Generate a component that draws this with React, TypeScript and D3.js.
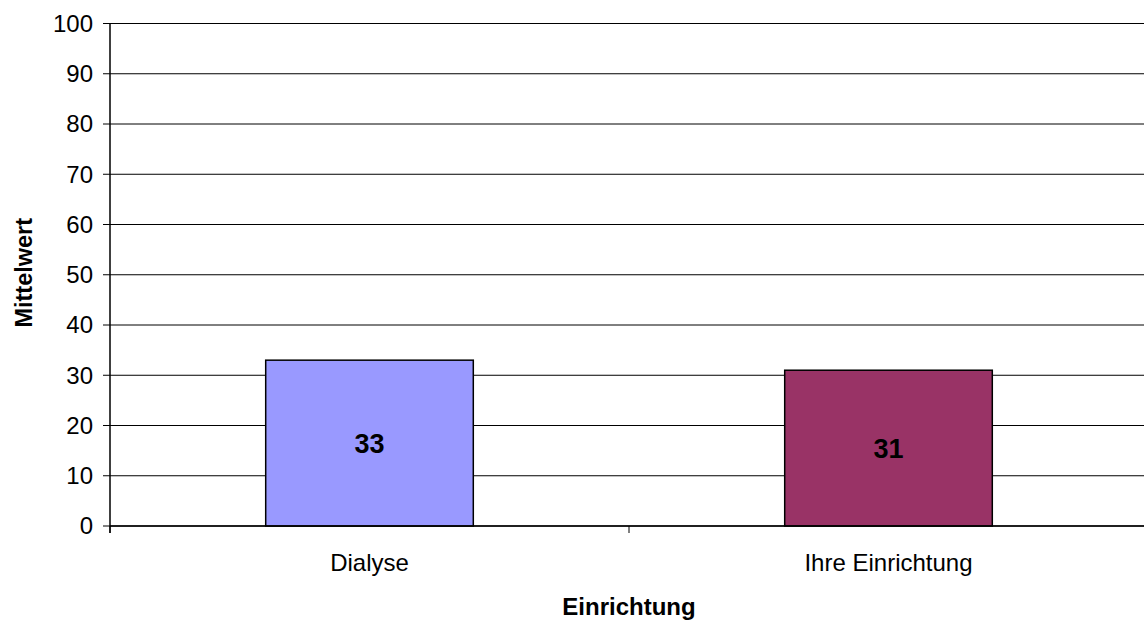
import React from "react";
import * as d3 from "d3";

const categories = ["Dialyse", "Ihre Einrichtung"];
const values = [33, 31];
const colors = ["#9999FF", "#993366"];
const yTicks = [0, 10, 20, 30, 40, 50, 60, 70, 80, 90, 100];

const W = 1144;
const H = 623;
const left = 110;
const right = 1148;
const top = 23.5;
const bottom = 526;

export default function App() {
  const x = d3.scaleBand<string>().domain(categories).range([left, right]).padding(0);
  const y = d3.scaleLinear().domain([0, 100]).range([bottom, top]);
  const bw = x.bandwidth() * 0.4;
  const font = "Arial, 'Liberation Sans', sans-serif";
  const edges = [left, ...categories.map((c) => (x(c) as number) + x.bandwidth())];
  return (
    <svg width={W} height={H} style={{ position: "absolute", left: 0, top: 0 }} fontFamily={font}>
      <rect width={W} height={H} fill="#fff" />
      {yTicks.map((t) => (
        <g key={t}>
          <line x1={left - 7} x2={right} y1={y(t)} y2={y(t)} stroke="#000" strokeWidth={1} />
          <text x={left - 17} y={y(t)} dy="0.35em" textAnchor="end" fontSize={24}>
            {t}
          </text>
        </g>
      ))}
      {categories.map((c, i) => {
        const cx = (x(c) as number) + x.bandwidth() / 2;
        return (
          <g key={c}>
            <rect
              x={cx - bw / 2}
              y={y(values[i])}
              width={bw}
              height={bottom - y(values[i])}
              fill={colors[i]}
              stroke="#000"
              strokeWidth={1.5}
            />
            <text
              x={cx}
              y={(y(values[i]) + bottom) / 2}
              dy="0.35em"
              textAnchor="middle"
              fontSize={27}
              fontWeight="bold"
            >
              {values[i]}
            </text>
            <text x={cx} y={571} textAnchor="middle" fontSize={24}>
              {c}
            </text>
          </g>
        );
      })}
      <line x1={left} x2={left} y1={top} y2={bottom + 7} stroke="#000" strokeWidth={1.5} />
      <line x1={left} x2={right} y1={bottom} y2={bottom} stroke="#000" strokeWidth={1.5} />
      {edges.map((e, i) => (
        <line key={i} x1={e} x2={e} y1={bottom} y2={bottom + 7} stroke="#000" strokeWidth={1} />
      ))}
      <text x={(left + right) / 2} y={615} textAnchor="middle" fontSize={24} fontWeight="bold">
        Einrichtung
      </text>
      <text
        transform={`translate(32, ${(top + bottom) / 2 - 2}) rotate(-90)`}
        textAnchor="middle"
        fontSize={23.5}
        fontWeight="bold"
      >
        Mittelwert
      </text>
    </svg>
  );
}
